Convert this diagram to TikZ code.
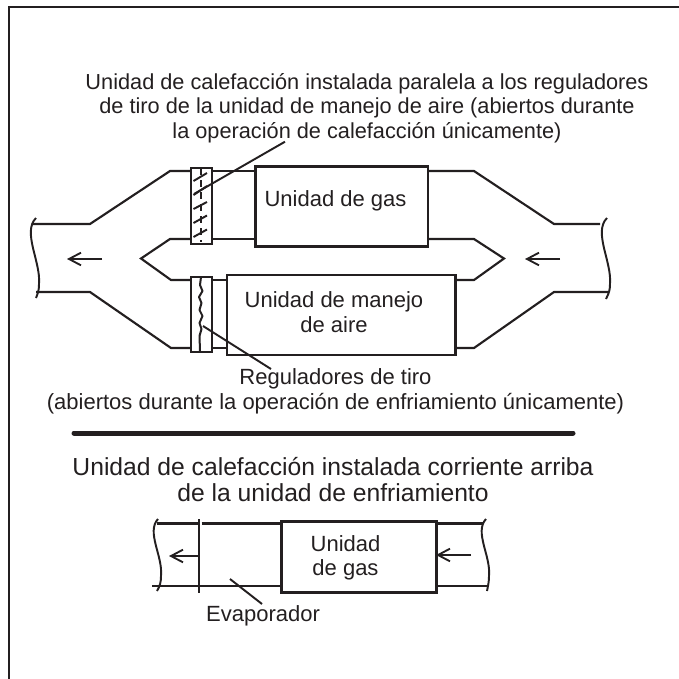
\documentclass[tikz,border=0pt]{standalone}
\usepackage{fontspec}
\setmainfont{Liberation Sans}
\usetikzlibrary{arrows.meta}
\definecolor{ink}{HTML}{231F20}
\tikzset{
  x=0.75pt,y=-0.75pt,
  duct/.style={draw=ink,line width=1.6pt,line join=miter},
  thin line/.style={draw=ink,line width=1.45pt},
  flow/.style={draw=ink,line width=1.4pt,-{Straight Barb[length=9pt,width=9.5pt,line width=1.4pt]}},
  unitbox/.style={draw=ink,line width=1.9pt,rectangle,inner sep=0pt},
  damper/.style={draw=ink,line width=1.7pt,rectangle,inner sep=0pt,minimum width=15.75pt},
  label/.style={align=center,inner sep=0pt,text=ink,font=\fontsize{16.5}{18.75}\selectfont},
  heading/.style={label,font=\fontsize{18.5}{19.5}\selectfont},
}
\begin{document}
\begin{tikzpicture}
\useasboundingbox (0,0) rectangle (679,679);
% frame
\coordinate (fa) at (9,679);
\coordinate (fb) at (9,7);
\coordinate (fc) at (679,7);
\draw[draw=ink,line width=2.2pt] (fa) -- (fb) -- (fc);
% boxes
\node[unitbox,minimum width=129.5pt,minimum height=60pt,anchor=north west] (gas) at (254,165) {};
\node[label] at (335.5,201) {Unidad de gas};
\node[unitbox,minimum width=171.5pt,minimum height=60pt,anchor=north west] (air) at (225.5,273.7) {};
\node[label] at (334,312) {Unidad de manejo\\de aire};
\node[damper,minimum height=57.5pt,anchor=north west] (d1) at (190,166.5) {};
\node[damper,minimum height=56.5pt,anchor=north west] (d2) at (190,275.5) {};
% upper duct
\coordinate (lt) at (33,224); \coordinate (lb) at (36,292);
\coordinate (rt) at (600,224); \coordinate (rb) at (608,292);
\coordinate (a1) at (90,224); \coordinate (a2) at (170,171);
\coordinate (a3) at (170,239); \coordinate (a4) at (141,258.5); \coordinate (a5) at (171,280);
\coordinate (a6) at (171,348); \coordinate (a7) at (90,292);
\coordinate (b1) at (554,224); \coordinate (b2) at (474,171);
\coordinate (b3) at (474,239); \coordinate (b4) at (504,258.5); \coordinate (b5) at (474,280);
\coordinate (b6) at (474,348); \coordinate (b7) at (554,292);
\draw[duct] (lt) -- (a1) -- (a2) -- (d1.west |- a2);
\draw[duct] (d1.east |- a2) -- (gas.west |- a2);
\draw[duct] (gas.east |- b2) -- (b2) -- (b1) -- (rt);
\draw[duct] (d1.west |- a3) -- (a3) -- (a4) -- (a5) -- (d2.west |- a5);
\draw[duct] (d1.east |- a3) -- (gas.west |- a3);
\draw[duct] (d2.east |- a5) -- (air.west |- a5);
\draw[duct] (gas.east |- b3) -- (b3) -- (b4) -- (b5) -- (air.east |- b5);
\draw[duct] (lb) -- (a7) -- (a6) -- (d2.west |- a6);
\draw[duct] (d2.east |- a6) -- (air.west |- a6);
\draw[duct] (air.east |- b6) -- (b6) -- (b7) -- (rb);
% wavy ends
\coordinate (w1a) at (36,218); \coordinate (w1b) at (36,298);
\coordinate (w2a) at (607,218); \coordinate (w2b) at (606,299);
\draw[thin line] (w1a) .. controls (22,232) and (41,262) .. (39,284) .. controls (39,290) and (38,293) .. (w1b);
\draw[thin line] (w2a) .. controls (593,232) and (612,262) .. (610,284) .. controls (610,290) and (609,293) .. (w2b);
% flow arrows
\coordinate (f1s) at (102,259); \coordinate (f1e) at (67,259);
\coordinate (f2s) at (560,259); \coordinate (f2e) at (525,259);
\draw[flow] (f1s) -- (f1e);
\draw[flow] (f2s) -- (f2e);
% open damper slats
\coordinate (dash1) at (200.5,168); \coordinate (dash2) at (200.5,242);
\draw[draw=ink,line width=1.5pt,dash pattern=on 5pt off 4pt] (dash1) -- (dash2);
\foreach \ya/\yb in {181/173,195/186,209/202,223/215.5,237/229.5}{
  \draw[thin line] (193.5,\ya) -- (207,\yb);
}
% closed damper zigzag
\draw[draw=ink,line width=1.5pt,line join=round]
 (201,277) -- (200,285) -- (202.5,291) -- (199,297) -- (201.5,303) -- (199.5,310) -- (202.5,316) -- (199.5,323) -- (201.5,329) -- (199.5,336) -- (200,351);
% leaders
\coordinate (l1a) at (285,141.7); \coordinate (l1b) at (194,194);
\draw[thin line] (l1a) -- (l1b);
\coordinate (l2a) at (203,326); \coordinate (l2b) at (271,369);
\draw[thin line] (l2a) -- (l2b);
% labels
\node[label,font=\fontsize{16.3}{18.4}\selectfont] at (367,108) {Unidad de calefacción instalada paralela a los reguladores\\de tiro de la unidad de manejo de aire (abiertos durante\\la operación de calefacción únicamente)};
\node[label] at (335.5,391.8) {Reguladores de tiro\\(abiertos durante la operación de enfriamiento únicamente)};
% divider
\coordinate (s1) at (74,433); \coordinate (s2) at (573,433);
\draw[draw=ink,line width=3.75pt,line cap=round] (s1) -- (s2);
\node[heading] at (333,480) {Unidad de calefacción instalada corriente arriba\\de la unidad de enfriamiento};
% lower unit
\node[unitbox,minimum width=116.5pt,minimum height=53.5pt,anchor=north west] (gas2) at (280,520) {};
\node[label,font=\fontsize{16.5}{18}\selectfont] at (345.5,558) {Unidad\\de gas};
\coordinate (e1) at (199,519); \coordinate (e2) at (199,593);
\draw[draw=ink,line width=1.7pt] (e1) -- (e2);
\coordinate (c1) at (157,523.5); \coordinate (c2) at (152,586);
\coordinate (c3) at (483,523.5); \coordinate (c4) at (488,586);
\coordinate (c5) at (201.5,523.5);
\draw[duct] (c1) -- (e1 |- c1);
\draw[duct] (c5) -- (gas2.west |- c1);
\draw[duct] (gas2.east |- c3) -- (c3);
\draw[duct] (c2) -- (gas2.west |- c2);
\draw[duct] (gas2.east |- c4) -- (c4);
\coordinate (w3a) at (158,519); \coordinate (w3b) at (157,591);
\coordinate (w4a) at (486,519); \coordinate (w4b) at (487,591);
\draw[thin line] (w3a) .. controls (146,532) and (163,556) .. (161,576) .. controls (161,582) and (160,586) .. (w3b);
\draw[thin line] (w4a) .. controls (474,532) and (491,556) .. (489,576) .. controls (489,582) and (488,586) .. (w4b);
\coordinate (f3s) at (198,556); \coordinate (f3e) at (169,556);
\coordinate (f4s) at (471,555); \coordinate (f4e) at (436,555);
\draw[flow] (f3s) -- (f3e);
\draw[flow] (f4s) -- (f4e);
\coordinate (l3a) at (230,579); \coordinate (l3b) at (262,604);
\draw[thin line] (l3a) -- (l3b);
\node[label] at (263,616) {Evaporador};
\end{tikzpicture}
\end{document}
